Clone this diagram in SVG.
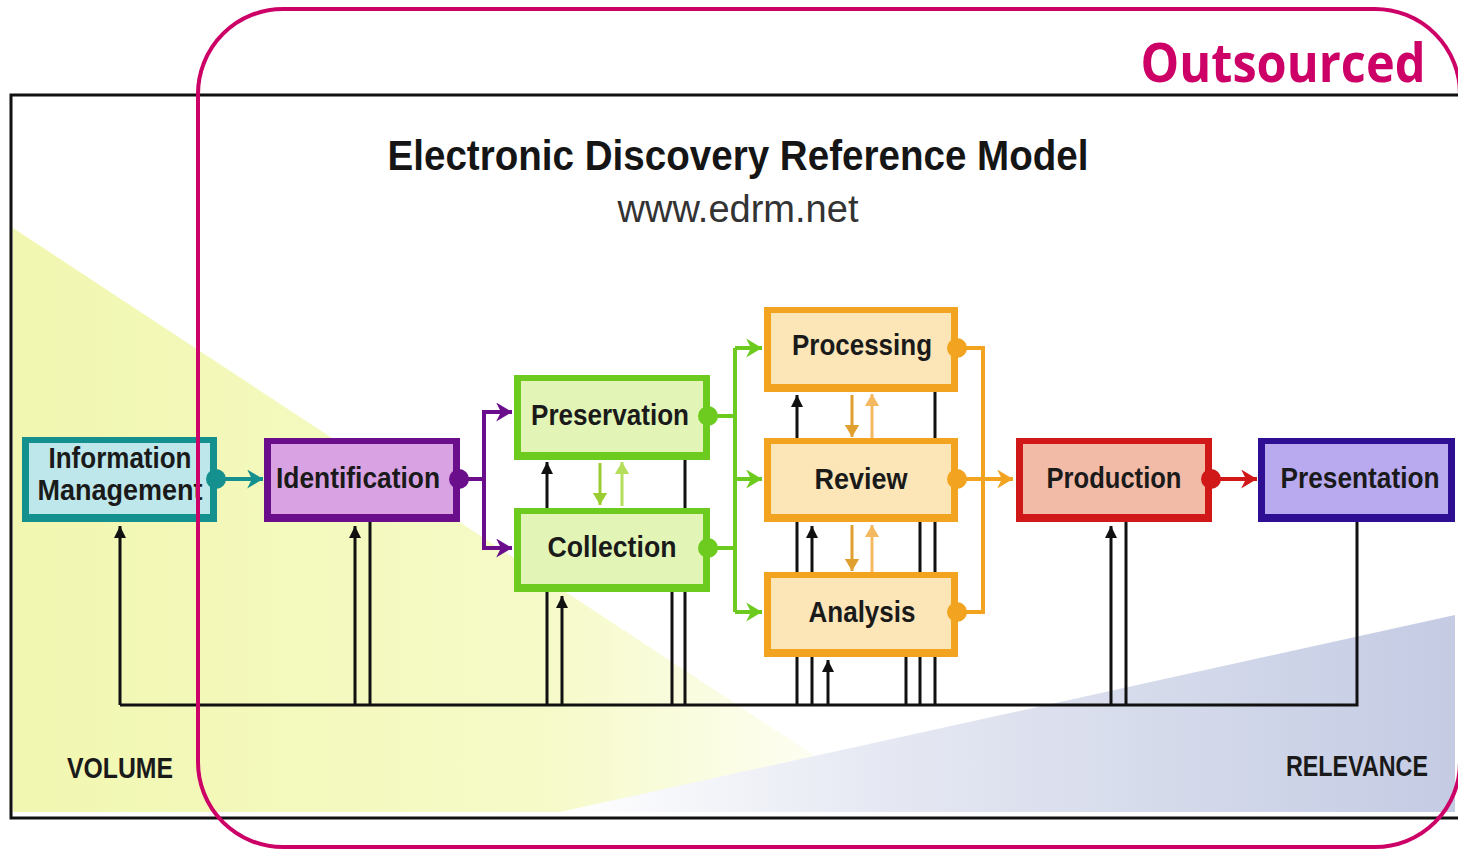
<svg xmlns="http://www.w3.org/2000/svg" width="1458" height="851" viewBox="0 0 1458 851">
<style>
.lbl{font-family:"Liberation Sans Narrow","Liberation Sans",Arial,sans-serif;font-weight:bold;fill:#1a1a1a;text-anchor:middle;font-size:29px}
.blk{stroke:#111;stroke-width:3;fill:none}
.blka{stroke:#111;stroke-width:3;fill:none;marker-end:url(#mBlk)}
.teal{stroke:#14918F;stroke-width:4;fill:none}
.pur{stroke:#6A0E8C;stroke-width:4;fill:none}
.grn{stroke:#6CCB1E;stroke-width:4;fill:none}
.org{stroke:#F2A320;stroke-width:4;fill:none}
.red{stroke:#D01818;stroke-width:4;fill:none}
</style>
<defs>
<linearGradient id="gY" x1="0" y1="0" x2="1" y2="0">
<stop offset="0" stop-color="#F1F7B0"/>
<stop offset="0.6" stop-color="#F6FAC8"/>
<stop offset="1" stop-color="#FFFFFF"/>
</linearGradient>
<linearGradient id="gB" x1="0" y1="0" x2="1" y2="0">
<stop offset="0" stop-color="#FFFFFF"/>
<stop offset="0.35" stop-color="#E6E9F3"/>
<stop offset="1" stop-color="#C4CBE3"/>
</linearGradient>
<marker id="mBlk" viewBox="0 0 10 10" refX="10" refY="5" markerWidth="12" markerHeight="12" markerUnits="userSpaceOnUse" orient="auto"><path d="M0,0 L10,5 L0,10 z" fill="#111"/></marker>
<marker id="mTeal" viewBox="0 0 10 12" refX="10" refY="6" markerWidth="16" markerHeight="19" markerUnits="userSpaceOnUse" orient="auto"><path d="M0,0 L10,6 L0,12 L3,6 z" fill="#14918F"/></marker>
<marker id="mPur" viewBox="0 0 10 12" refX="10" refY="6" markerWidth="16" markerHeight="19" markerUnits="userSpaceOnUse" orient="auto"><path d="M0,0 L10,6 L0,12 L3,6 z" fill="#6A0E8C"/></marker>
<marker id="mGrn" viewBox="0 0 10 12" refX="10" refY="6" markerWidth="16" markerHeight="19" markerUnits="userSpaceOnUse" orient="auto"><path d="M0,0 L10,6 L0,12 L3,6 z" fill="#6CCB1E"/></marker>
<marker id="mOrg" viewBox="0 0 10 12" refX="10" refY="6" markerWidth="16" markerHeight="19" markerUnits="userSpaceOnUse" orient="auto"><path d="M0,0 L10,6 L0,12 L3,6 z" fill="#F2A320"/></marker>
<marker id="mRed" viewBox="0 0 10 12" refX="10" refY="6" markerWidth="16" markerHeight="19" markerUnits="userSpaceOnUse" orient="auto"><path d="M0,0 L10,6 L0,12 L3,6 z" fill="#D01818"/></marker>
<marker id="mG1" viewBox="0 0 10 12" refX="10" refY="6" markerWidth="12" markerHeight="15" markerUnits="userSpaceOnUse" orient="auto"><path d="M0,0 L10,6 L0,12 z" fill="#9ACD32"/></marker>
<marker id="mG2" viewBox="0 0 10 12" refX="10" refY="6" markerWidth="12" markerHeight="15" markerUnits="userSpaceOnUse" orient="auto"><path d="M0,0 L10,6 L0,12 z" fill="#B5DE5A"/></marker>
<marker id="mO1" viewBox="0 0 10 12" refX="10" refY="6" markerWidth="12" markerHeight="15" markerUnits="userSpaceOnUse" orient="auto"><path d="M0,0 L10,6 L0,12 z" fill="#E0A030"/></marker>
<marker id="mO2" viewBox="0 0 10 12" refX="10" refY="6" markerWidth="12" markerHeight="15" markerUnits="userSpaceOnUse" orient="auto"><path d="M0,0 L10,6 L0,12 z" fill="#F4B860"/></marker>
</defs>

<rect x="0" y="0" width="1458" height="851" fill="#FFFFFF"/>

<g id="frame">
<rect x="11" y="95" width="1460" height="723" fill="#FFFFFF" stroke="#111" stroke-width="3"/>
<polygon points="13,228 900,812 13,812" fill="url(#gY)"/>
<polygon points="560,812 1455,615 1455,812" fill="url(#gB)"/>
</g>

<g id="titles">
<text x="738" y="170" font-family="'Liberation Sans Narrow','Liberation Sans',Arial,sans-serif" font-weight="bold" font-size="42" fill="#151515" text-anchor="middle" textLength="701" lengthAdjust="spacingAndGlyphs">Electronic Discovery Reference Model</text>
<text x="738" y="222" font-family="'Liberation Sans Narrow','Liberation Sans',Arial,sans-serif" font-size="38" fill="#333" text-anchor="middle" textLength="241" lengthAdjust="spacingAndGlyphs">www.edrm.net</text>
<text x="120" y="778" class="lbl" font-size="28" textLength="106" lengthAdjust="spacingAndGlyphs">VOLUME</text>
<text x="1357" y="776" class="lbl" font-size="27" textLength="142" lengthAdjust="spacingAndGlyphs">RELEVANCE</text>
</g>

<g id="info-management">
<rect x="22" y="437" width="195" height="85" fill="#14918F"/>
<rect x="29" y="443" width="181" height="71" fill="#BDE7EA"/>
<text x="120" y="468" class="lbl" font-size="28" textLength="143" lengthAdjust="spacingAndGlyphs">Information</text>
<text x="120" y="500" class="lbl" font-size="28" textLength="165" lengthAdjust="spacingAndGlyphs">Management</text>
</g>

<g id="identification">
<rect x="264" y="438" width="196" height="84" fill="#6A0E8C"/>
<rect x="271" y="444" width="182" height="70" fill="#D9A3E3"/>
<text x="358" y="488" class="lbl" textLength="164" lengthAdjust="spacingAndGlyphs">Identification</text>
</g>

<g id="preservation">
<rect x="514" y="375" width="196" height="85" fill="#6CCB1E"/>
<rect x="521" y="381" width="182" height="71" fill="#E2F5B6"/>
<text x="610" y="425" class="lbl" textLength="158" lengthAdjust="spacingAndGlyphs">Preservation</text>
</g>

<g id="collection">
<rect x="514" y="508" width="196" height="84" fill="#6CCB1E"/>
<rect x="521" y="514" width="182" height="70" fill="#E2F5B6"/>
<text x="612" y="557" class="lbl" textLength="129" lengthAdjust="spacingAndGlyphs">Collection</text>
</g>

<g id="processing">
<rect x="764" y="307" width="194" height="85" fill="#F2A320"/>
<rect x="771" y="313" width="180" height="71" fill="#FCE6B8"/>
<text x="862" y="355" class="lbl" textLength="140" lengthAdjust="spacingAndGlyphs">Processing</text>
</g>

<g id="review">
<rect x="764" y="438" width="194" height="84" fill="#F2A320"/>
<rect x="771" y="444" width="180" height="70" fill="#FCE6B8"/>
<text x="861" y="489" class="lbl" textLength="93" lengthAdjust="spacingAndGlyphs">Review</text>
</g>

<g id="analysis">
<rect x="764" y="572" width="194" height="85" fill="#F2A320"/>
<rect x="771" y="578" width="180" height="71" fill="#FCE6B8"/>
<text x="862" y="622" class="lbl" textLength="107" lengthAdjust="spacingAndGlyphs">Analysis</text>
</g>

<g id="production">
<rect x="1016" y="438" width="196" height="84" fill="#D01818"/>
<rect x="1023" y="444" width="182" height="70" fill="#F2BBA8"/>
<text x="1114" y="488" class="lbl" textLength="135" lengthAdjust="spacingAndGlyphs">Production</text>
</g>

<g id="presentation">
<rect x="1258" y="438" width="197" height="84" fill="#2E0F94"/>
<rect x="1265" y="444" width="183" height="70" fill="#B9AAF0"/>
<text x="1360" y="488" class="lbl" textLength="159" lengthAdjust="spacingAndGlyphs">Presentation</text>
</g>

<g id="connectors">
<!-- black feedback lines -->
<path class="blk" d="M120,705 H1357 V522"/>
<path class="blka" d="M120,705 V526"/>
<path class="blka" d="M355,705 V526"/>
<path class="blk" d="M370,522 V705"/>
<path class="blka" d="M547,508 V462"/>
<path class="blk" d="M685,460 V508"/>
<path class="blk" d="M547,592 V705"/>
<path class="blka" d="M562,705 V596"/>
<path class="blk" d="M672,592 V705 M685,592 V705"/>
<path class="blka" d="M797,438 V395"/>
<path class="blk" d="M935,392 V438"/>
<path class="blk" d="M797,522 V572"/>
<path class="blka" d="M812,572 V526"/>
<path class="blk" d="M920,522 V572 M935,522 V572"/>
<path class="blk" d="M797,657 V705 M812,657 V705"/>
<path class="blka" d="M828,705 V660"/>
<path class="blk" d="M906,657 V705 M920,657 V705 M935,657 V705"/>
<path class="blka" d="M1111,705 V526"/>
<path class="blk" d="M1126,522 V705"/>
<!-- teal -->
<path class="teal" d="M216,479 H263" marker-end="url(#mTeal)"/>
<circle cx="216" cy="479" r="10" fill="#14918F"/>
<!-- purple -->
<path class="pur" d="M459,479 H484 V412 H512" marker-end="url(#mPur)"/>
<path class="pur" d="M484,479 V548 H512" marker-end="url(#mPur)"/>
<circle cx="459" cy="479" r="10" fill="#6A0E8C"/>
<!-- green -->
<path class="grn" d="M708,416 H735 M708,548 H735 M735,348 V612"/>
<path class="grn" d="M735,348 H762" marker-end="url(#mGrn)"/>
<path class="grn" d="M735,479 H762" marker-end="url(#mGrn)"/>
<path class="grn" d="M735,612 H762" marker-end="url(#mGrn)"/>
<circle cx="708" cy="416" r="10" fill="#6CCB1E"/>
<circle cx="708" cy="548" r="10" fill="#6CCB1E"/>
<path d="M600,463 V505" stroke="#9ACD32" stroke-width="3" marker-end="url(#mG1)"/>
<path d="M622,506 V462" stroke="#B5DE5A" stroke-width="3" marker-end="url(#mG2)"/>
<!-- orange -->
<path class="org" d="M957,348 H983 V612 H957"/>
<path class="org" d="M957,479 H1013" marker-end="url(#mOrg)"/>
<circle cx="957" cy="348" r="10" fill="#F2A320"/>
<circle cx="957" cy="479" r="10" fill="#F2A320"/>
<circle cx="957" cy="612" r="10" fill="#F2A320"/>
<path d="M852,395 V437" stroke="#E0A030" stroke-width="3" marker-end="url(#mO1)"/>
<path d="M872,438 V394" stroke="#F4B860" stroke-width="3" marker-end="url(#mO2)"/>
<path d="M852,525 V571" stroke="#E0A030" stroke-width="3" marker-end="url(#mO1)"/>
<path d="M872,572 V525" stroke="#F4B860" stroke-width="3" marker-end="url(#mO2)"/>
<!-- red -->
<path class="red" d="M1211,479 H1257" marker-end="url(#mRed)"/>
<circle cx="1211" cy="479" r="10" fill="#D01818"/>
</g>

<g id="outsourced">
<rect x="198" y="9" width="1262" height="838" rx="85" ry="85" fill="none" stroke="#CC0066" stroke-width="4"/>
<text x="1283" y="82" font-family="'Open Sans','Noto Sans',sans-serif" font-weight="bold" font-size="54" fill="#CC0066" text-anchor="middle" textLength="285" lengthAdjust="spacingAndGlyphs">Outsourced</text>
</g>
</svg>
